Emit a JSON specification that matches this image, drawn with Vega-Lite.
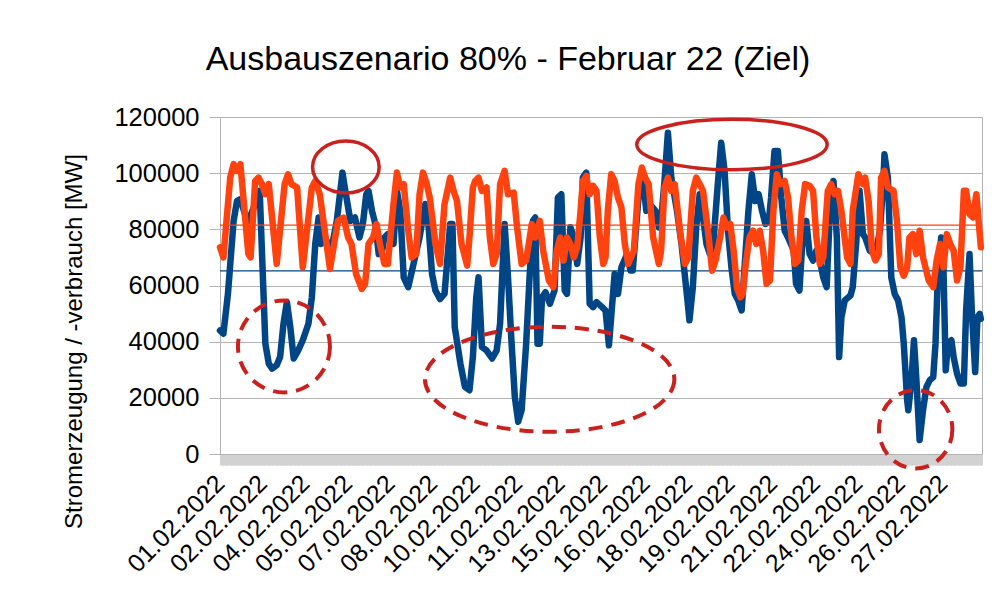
{
  "$schema": "https://vega.github.io/schema/vega-lite/v6.json",
  "width": 762,
  "height": 337,
  "autosize": {"type": "none"},
  "padding": {"left": 220, "top": 117, "right": 21, "bottom": 146},
  "background": "white",
  "title": {
    "text": "Ausbauszenario 80% - Februar 22 (Ziel)",
    "fontSize": 34,
    "font": "Liberation Sans",
    "fontWeight": "normal",
    "color": "black",
    "anchor": "middle",
    "frame": "group",
    "dx": -93,
    "offset": 1,
    "baseline": "alphabetic"
  },
  "config": {
    "view": {"stroke": "#b3b3b3", "strokeWidth": 1},
    "font": "Liberation Sans"
  },
  "datasets": {
    "mittel": [
      {"s": "Erzeugung", "v": 65200},
      {"s": "Verbrauch", "v": 81500}
    ],
    "markierungen": [
      {"id": 1, "h": 111, "v": 102200},
      {"id": 2, "h": 451.5, "v": 110200},
      {"id": 3, "h": 56.4, "v": 38300},
      {"id": 4, "h": 290.7, "v": 26600},
      {"id": 5, "h": 613.5, "v": 8800}
    ],
    "erzeugung": [
      {"h": 0, "v": 44000}, {"h": 3, "v": 42800}, {"h": 7, "v": 57000}, {"h": 12, "v": 83000},
      {"h": 15, "v": 90100}, {"h": 18, "v": 90700}, {"h": 22, "v": 85400}, {"h": 25, "v": 83000},
      {"h": 31, "v": 89000}, {"h": 35, "v": 93700}, {"h": 40, "v": 39300}, {"h": 43, "v": 32200},
      {"h": 46, "v": 30400}, {"h": 50, "v": 31600}, {"h": 53, "v": 34500}, {"h": 56, "v": 46400},
      {"h": 59, "v": 54100}, {"h": 62, "v": 45200}, {"h": 65, "v": 34000}, {"h": 69, "v": 36900},
      {"h": 73, "v": 40500}, {"h": 78, "v": 46400}, {"h": 81, "v": 55800}, {"h": 84, "v": 74800},
      {"h": 87, "v": 84200}, {"h": 89, "v": 74800}, {"h": 94, "v": 75900}, {"h": 98, "v": 72400},
      {"h": 103, "v": 83000}, {"h": 108, "v": 100200}, {"h": 110, "v": 95000}, {"h": 115, "v": 83000},
      {"h": 119, "v": 84200}, {"h": 123, "v": 77100}, {"h": 126, "v": 81900}, {"h": 129, "v": 92500},
      {"h": 131, "v": 93700}, {"h": 134, "v": 86600}, {"h": 137, "v": 81900}, {"h": 140, "v": 71200},
      {"h": 143, "v": 72400}, {"h": 145, "v": 77100}, {"h": 148, "v": 78300}, {"h": 153, "v": 74800},
      {"h": 156, "v": 93700}, {"h": 159, "v": 86600}, {"h": 162, "v": 62900}, {"h": 166, "v": 59400},
      {"h": 170, "v": 66500}, {"h": 176, "v": 77100}, {"h": 181, "v": 89000}, {"h": 184, "v": 80700},
      {"h": 187, "v": 64100}, {"h": 190, "v": 58200}, {"h": 194, "v": 55200}, {"h": 198, "v": 57000},
      {"h": 203, "v": 81900}, {"h": 205, "v": 81900}, {"h": 207, "v": 45200}, {"h": 212, "v": 32200},
      {"h": 216, "v": 23900}, {"h": 220, "v": 22700}, {"h": 223, "v": 34500}, {"h": 226, "v": 55800},
      {"h": 228, "v": 62900}, {"h": 231, "v": 38100}, {"h": 235, "v": 36900}, {"h": 240, "v": 34000},
      {"h": 244, "v": 36900}, {"h": 247, "v": 46400}, {"h": 251, "v": 81900}, {"h": 254, "v": 62900},
      {"h": 257, "v": 40500}, {"h": 260, "v": 20300}, {"h": 263, "v": 11500}, {"h": 266, "v": 15600},
      {"h": 270, "v": 39300}, {"h": 273, "v": 62900}, {"h": 276, "v": 83000}, {"h": 278, "v": 84200},
      {"h": 280, "v": 39300}, {"h": 282, "v": 39300}, {"h": 284, "v": 55800}, {"h": 287, "v": 57600},
      {"h": 291, "v": 53500}, {"h": 295, "v": 58200}, {"h": 298, "v": 91300}, {"h": 301, "v": 92500},
      {"h": 304, "v": 58200}, {"h": 306, "v": 57000}, {"h": 309, "v": 80700}, {"h": 312, "v": 77100},
      {"h": 315, "v": 67700}, {"h": 318, "v": 77100}, {"h": 320, "v": 98400}, {"h": 323, "v": 100200},
      {"h": 326, "v": 53500}, {"h": 329, "v": 52300}, {"h": 332, "v": 54100}, {"h": 337, "v": 52300},
      {"h": 340, "v": 51100}, {"h": 343, "v": 38700}, {"h": 348, "v": 64100}, {"h": 351, "v": 57000},
      {"h": 354, "v": 66500}, {"h": 359, "v": 71200}, {"h": 362, "v": 65300}, {"h": 364, "v": 65300},
      {"h": 370, "v": 96100}, {"h": 373, "v": 97200}, {"h": 376, "v": 86600}, {"h": 379, "v": 89000},
      {"h": 384, "v": 86600}, {"h": 387, "v": 80700}, {"h": 389, "v": 83000}, {"h": 392, "v": 97200},
      {"h": 395, "v": 114400}, {"h": 398, "v": 98400}, {"h": 403, "v": 86600}, {"h": 407, "v": 74800},
      {"h": 412, "v": 55800}, {"h": 414, "v": 47600}, {"h": 417, "v": 59400}, {"h": 420, "v": 80700},
      {"h": 423, "v": 92500}, {"h": 426, "v": 84200}, {"h": 429, "v": 74800}, {"h": 432, "v": 71200},
      {"h": 435, "v": 74800}, {"h": 439, "v": 96100}, {"h": 442, "v": 110800}, {"h": 445, "v": 100800},
      {"h": 448, "v": 79500}, {"h": 451, "v": 66500}, {"h": 454, "v": 57000}, {"h": 457, "v": 54700},
      {"h": 460, "v": 51100}, {"h": 463, "v": 68900}, {"h": 466, "v": 86600}, {"h": 469, "v": 99600},
      {"h": 472, "v": 90100}, {"h": 475, "v": 92500}, {"h": 478, "v": 86600}, {"h": 481, "v": 81900},
      {"h": 484, "v": 83000}, {"h": 486, "v": 91300}, {"h": 489, "v": 107900}, {"h": 492, "v": 107900},
      {"h": 495, "v": 91300}, {"h": 498, "v": 79500}, {"h": 501, "v": 77100}, {"h": 506, "v": 72400},
      {"h": 508, "v": 60600}, {"h": 511, "v": 58200}, {"h": 514, "v": 78300}, {"h": 517, "v": 83000},
      {"h": 520, "v": 71200}, {"h": 523, "v": 68900}, {"h": 526, "v": 72400}, {"h": 529, "v": 68900},
      {"h": 532, "v": 62900}, {"h": 535, "v": 59400}, {"h": 538, "v": 87800}, {"h": 541, "v": 97200},
      {"h": 544, "v": 77100}, {"h": 546, "v": 34500}, {"h": 548, "v": 48700}, {"h": 551, "v": 54700},
      {"h": 556, "v": 56400}, {"h": 558, "v": 59400}, {"h": 561, "v": 74800}, {"h": 564, "v": 93700},
      {"h": 567, "v": 78300}, {"h": 569, "v": 77100}, {"h": 573, "v": 72400}, {"h": 578, "v": 71200},
      {"h": 582, "v": 79500}, {"h": 585, "v": 97200}, {"h": 586, "v": 106700}, {"h": 589, "v": 98400},
      {"h": 591, "v": 74800}, {"h": 592, "v": 62900}, {"h": 595, "v": 57000}, {"h": 598, "v": 54700},
      {"h": 601, "v": 48700}, {"h": 603, "v": 39300}, {"h": 606, "v": 19200}, {"h": 607, "v": 15600},
      {"h": 610, "v": 27400}, {"h": 612, "v": 40500}, {"h": 614, "v": 27400}, {"h": 617, "v": 5000},
      {"h": 620, "v": 15600}, {"h": 623, "v": 23900}, {"h": 626, "v": 26300}, {"h": 629, "v": 27400},
      {"h": 631, "v": 39300}, {"h": 633, "v": 62900}, {"h": 636, "v": 77100}, {"h": 638, "v": 66500},
      {"h": 640, "v": 29800}, {"h": 642, "v": 39300}, {"h": 645, "v": 40500}, {"h": 647, "v": 34500},
      {"h": 650, "v": 28600}, {"h": 653, "v": 25100}, {"h": 656, "v": 25100}, {"h": 658, "v": 51100},
      {"h": 661, "v": 71200}, {"h": 663, "v": 51100}, {"h": 666, "v": 29200}, {"h": 668, "v": 48700},
      {"h": 670, "v": 49900}, {"h": 671, "v": 48100}
    ],
    "verbrauch": [
      {"h": 0, "v": 73600}, {"h": 3, "v": 70000}, {"h": 9, "v": 98400}, {"h": 12, "v": 103200},
      {"h": 15, "v": 100800}, {"h": 18, "v": 103200}, {"h": 25, "v": 71200}, {"h": 27, "v": 70000},
      {"h": 31, "v": 97200}, {"h": 34, "v": 98400}, {"h": 37, "v": 96100}, {"h": 40, "v": 92500},
      {"h": 43, "v": 96100}, {"h": 50, "v": 67700}, {"h": 57, "v": 96100}, {"h": 60, "v": 99600},
      {"h": 63, "v": 96100}, {"h": 68, "v": 94900}, {"h": 73, "v": 66500}, {"h": 81, "v": 94900},
      {"h": 84, "v": 97200}, {"h": 88, "v": 92500}, {"h": 97, "v": 65900}, {"h": 104, "v": 83000},
      {"h": 109, "v": 84200}, {"h": 113, "v": 77100}, {"h": 116, "v": 74800}, {"h": 120, "v": 64100},
      {"h": 125, "v": 58800}, {"h": 128, "v": 60600}, {"h": 131, "v": 74800}, {"h": 135, "v": 77100},
      {"h": 138, "v": 81900}, {"h": 141, "v": 74800}, {"h": 145, "v": 67700}, {"h": 148, "v": 67700},
      {"h": 153, "v": 89000}, {"h": 156, "v": 100200}, {"h": 159, "v": 94900}, {"h": 162, "v": 96100},
      {"h": 166, "v": 79500}, {"h": 169, "v": 70000}, {"h": 173, "v": 71200}, {"h": 176, "v": 92500},
      {"h": 179, "v": 100200}, {"h": 182, "v": 96700}, {"h": 185, "v": 91300}, {"h": 190, "v": 74800},
      {"h": 194, "v": 67700}, {"h": 198, "v": 89000}, {"h": 203, "v": 98400}, {"h": 206, "v": 93700},
      {"h": 209, "v": 90100}, {"h": 213, "v": 74800}, {"h": 218, "v": 67100}, {"h": 220, "v": 77100},
      {"h": 223, "v": 94900}, {"h": 225, "v": 97200}, {"h": 228, "v": 98400}, {"h": 231, "v": 93700},
      {"h": 235, "v": 94900}, {"h": 238, "v": 77100}, {"h": 241, "v": 67700}, {"h": 244, "v": 71200},
      {"h": 247, "v": 96100}, {"h": 251, "v": 100800}, {"h": 254, "v": 92500}, {"h": 259, "v": 93100},
      {"h": 262, "v": 80700}, {"h": 266, "v": 67700}, {"h": 270, "v": 68900}, {"h": 275, "v": 81900},
      {"h": 278, "v": 77100}, {"h": 282, "v": 83000}, {"h": 285, "v": 72400}, {"h": 290, "v": 61800},
      {"h": 294, "v": 59400}, {"h": 297, "v": 72400}, {"h": 300, "v": 77100}, {"h": 303, "v": 68900},
      {"h": 306, "v": 77100}, {"h": 309, "v": 74800}, {"h": 312, "v": 70000}, {"h": 315, "v": 73600},
      {"h": 318, "v": 86600}, {"h": 320, "v": 97200}, {"h": 323, "v": 99000}, {"h": 326, "v": 92500},
      {"h": 329, "v": 95500}, {"h": 332, "v": 93700}, {"h": 335, "v": 77100}, {"h": 338, "v": 67700},
      {"h": 340, "v": 70000}, {"h": 342, "v": 86600}, {"h": 345, "v": 99600}, {"h": 348, "v": 97200},
      {"h": 351, "v": 91300}, {"h": 354, "v": 87800}, {"h": 357, "v": 74800}, {"h": 360, "v": 67700},
      {"h": 365, "v": 72400}, {"h": 369, "v": 96100}, {"h": 372, "v": 102000}, {"h": 375, "v": 98400},
      {"h": 378, "v": 96100}, {"h": 382, "v": 77100}, {"h": 387, "v": 67700}, {"h": 389, "v": 72400},
      {"h": 392, "v": 94900}, {"h": 395, "v": 98400}, {"h": 398, "v": 93700}, {"h": 401, "v": 96100},
      {"h": 406, "v": 78300}, {"h": 410, "v": 67700}, {"h": 413, "v": 70000}, {"h": 417, "v": 93700},
      {"h": 420, "v": 98400}, {"h": 423, "v": 96100}, {"h": 426, "v": 93700}, {"h": 431, "v": 77100},
      {"h": 434, "v": 65300}, {"h": 437, "v": 68900}, {"h": 441, "v": 77100}, {"h": 444, "v": 84200},
      {"h": 447, "v": 80700}, {"h": 450, "v": 81900}, {"h": 453, "v": 72400}, {"h": 456, "v": 59000},
      {"h": 459, "v": 55800}, {"h": 461, "v": 57000}, {"h": 464, "v": 68900}, {"h": 467, "v": 77100},
      {"h": 470, "v": 79500}, {"h": 473, "v": 74800}, {"h": 476, "v": 79500}, {"h": 479, "v": 72400},
      {"h": 482, "v": 60600}, {"h": 485, "v": 61800}, {"h": 488, "v": 86600}, {"h": 491, "v": 99600},
      {"h": 494, "v": 96100}, {"h": 498, "v": 97200}, {"h": 501, "v": 91300}, {"h": 504, "v": 77100},
      {"h": 507, "v": 67700}, {"h": 510, "v": 68900}, {"h": 513, "v": 86600}, {"h": 516, "v": 96100},
      {"h": 520, "v": 95500}, {"h": 523, "v": 93700}, {"h": 526, "v": 77100}, {"h": 529, "v": 67700},
      {"h": 532, "v": 70000}, {"h": 536, "v": 93700}, {"h": 539, "v": 96100}, {"h": 542, "v": 92500},
      {"h": 545, "v": 93700}, {"h": 548, "v": 86600}, {"h": 553, "v": 70000}, {"h": 556, "v": 67700},
      {"h": 558, "v": 86600}, {"h": 563, "v": 99600}, {"h": 567, "v": 96100}, {"h": 569, "v": 98400},
      {"h": 572, "v": 90100}, {"h": 575, "v": 72400}, {"h": 578, "v": 68900}, {"h": 581, "v": 71200},
      {"h": 583, "v": 98400}, {"h": 586, "v": 100800}, {"h": 589, "v": 94900}, {"h": 594, "v": 93700},
      {"h": 597, "v": 83000}, {"h": 600, "v": 66500}, {"h": 603, "v": 63500}, {"h": 606, "v": 66500},
      {"h": 608, "v": 77100}, {"h": 611, "v": 78300}, {"h": 614, "v": 71200}, {"h": 617, "v": 79500},
      {"h": 620, "v": 70000}, {"h": 625, "v": 61800}, {"h": 629, "v": 59400}, {"h": 632, "v": 68900},
      {"h": 635, "v": 74800}, {"h": 638, "v": 66500}, {"h": 641, "v": 78300}, {"h": 644, "v": 74800},
      {"h": 647, "v": 72400}, {"h": 650, "v": 61800}, {"h": 653, "v": 66500}, {"h": 656, "v": 93700},
      {"h": 658, "v": 93700}, {"h": 661, "v": 85400}, {"h": 664, "v": 84200}, {"h": 667, "v": 92500},
      {"h": 671, "v": 73600}
    ]
  },
  "layer": [
    {
      "data": {"name": "erzeugung"},
      "mark": {"type": "line", "color": "#004586", "strokeWidth": 6.5, "strokeJoin": "round", "strokeCap": "round"},
      "encoding": {
        "x": {
          "field": "h", "type": "quantitative",
          "scale": {"domain": [0, 672], "nice": false, "zero": false},
          "axis": {
            "title": null,
            "grid": false,
            "tickCount": 1344,
            "labelExpr": "datum.value % 37.5 == 0 ? ((floor(datum.value / 24) + 1 < 10 ? '0' : '') + (floor(datum.value / 24) + 1) + '.02.2022') : ''",
            "labelAngle": -45,
            "labelAlign": "right",
            "labelBaseline": "middle",
            "labelFontSize": 25,
            "labelColor": "black",
            "labelOverlap": false,
            "labelBound": false,
            "labelFlush": false,
            "labelPadding": 14,
            "tickSize": 11,
            "tickColor": "#d2d2d2",
            "tickWidth": 1,
            "domainColor": "#b3b3b3"
          }
        },
        "y": {
          "field": "v", "type": "quantitative",
          "scale": {"domain": [0, 120000], "nice": false},
          "axis": {
            "values": [0, 20000, 40000, 60000, 80000, 100000, 120000],
            "format": "d",
            "labelFontSize": 25.5,
            "labelColor": "black",
            "labelPadding": 10,
            "tickSize": 11,
            "tickColor": "#b3b3b3",
            "domainColor": "#b3b3b3",
            "grid": true,
            "gridColor": "#b3b3b3",
            "title": "Stromerzeugung / -verbrauch [MW]",
            "titleFontSize": 24,
            "titleFontWeight": "normal",
            "titleColor": "black",
            "titleAngle": -90,
            "titleAlign": "center",
            "titleBaseline": "middle",
            "titleX": -146,
            "titleY": 224
          }
        }
      }
    },
    {
      "data": {"name": "mittel"},
      "mark": {"type": "rule", "strokeWidth": 1.3},
      "encoding": {
        "y": {"field": "v", "type": "quantitative", "scale": {"domain": [0, 120000], "nice": false}},
        "color": {"field": "s", "type": "nominal", "scale": {"domain": ["Erzeugung", "Verbrauch"], "range": ["#004586", "#ff420e"]}, "legend": null}
      }
    },
    {
      "data": {"name": "verbrauch"},
      "mark": {"type": "line", "color": "#ff420e", "strokeWidth": 6.5, "strokeJoin": "round", "strokeCap": "round"},
      "encoding": {
        "x": {"field": "h", "type": "quantitative", "scale": {"domain": [0, 672], "nice": false, "zero": false}},
        "y": {"field": "v", "type": "quantitative", "scale": {"domain": [0, 120000], "nice": false}}
      }
    },
    {
      "data": {"name": "markierungen"},
      "transform": [{"filter": "datum.id == 1"}],
      "mark": {"type": "point", "filled": false, "opacity": 1, "clip": false, "color": "#c9211e", "strokeWidth": 3.5, "size": 4436,
        "shape": "M1,0C1,0.431 0.552,0.78 0,0.78C-0.552,0.78 -1,0.431 -1,0C-1,-0.431 -0.552,-0.78 0,-0.78C0.552,-0.78 1,-0.431 1,0Z"},
      "encoding": {
        "x": {"field": "h", "type": "quantitative", "scale": {"domain": [0, 672], "nice": false, "zero": false}},
        "y": {"field": "v", "type": "quantitative", "scale": {"domain": [0, 120000], "nice": false}}
      }
    },
    {
      "data": {"name": "markierungen"},
      "transform": [{"filter": "datum.id == 2"}],
      "mark": {"type": "point", "filled": false, "opacity": 1, "clip": false, "color": "#c9211e", "strokeWidth": 3.5, "size": 36252,
        "shape": "M1,0C1,0.146 0.552,0.265 0,0.265C-0.552,0.265 -1,0.146 -1,0C-1,-0.146 -0.552,-0.265 0,-0.265C0.552,-0.265 1,-0.146 1,0Z"},
      "encoding": {
        "x": {"field": "h", "type": "quantitative", "scale": {"domain": [0, 672], "nice": false, "zero": false}},
        "y": {"field": "v", "type": "quantitative", "scale": {"domain": [0, 120000], "nice": false}}
      }
    },
    {
      "data": {"name": "markierungen"},
      "transform": [{"filter": "datum.id == 3"}],
      "mark": {"type": "point", "filled": false, "opacity": 1, "clip": false, "color": "#c9211e", "strokeWidth": 4, "strokeDash": [14, 9], "size": 8464,
        "shape": "M1,0C1,0.552 0.552,1 0,1C-0.552,1 -1,0.552 -1,0C-1,-0.552 -0.552,-1 0,-1C0.552,-1 1,-0.552 1,0Z"},
      "encoding": {
        "x": {"field": "h", "type": "quantitative", "scale": {"domain": [0, 672], "nice": false, "zero": false}},
        "y": {"field": "v", "type": "quantitative", "scale": {"domain": [0, 120000], "nice": false}}
      }
    },
    {
      "data": {"name": "markierungen"},
      "transform": [{"filter": "datum.id == 4"}],
      "mark": {"type": "point", "filled": false, "opacity": 1, "clip": false, "color": "#c9211e", "strokeWidth": 4, "strokeDash": [14, 9], "size": 62200,
        "shape": "M1,0C1,0.2325 0.552,0.421 0,0.421C-0.552,0.421 -1,0.2325 -1,0C-1,-0.2325 -0.552,-0.421 0,-0.421C0.552,-0.421 1,-0.2325 1,0Z"},
      "encoding": {
        "x": {"field": "h", "type": "quantitative", "scale": {"domain": [0, 672], "nice": false, "zero": false}},
        "y": {"field": "v", "type": "quantitative", "scale": {"domain": [0, 120000], "nice": false}}
      }
    },
    {
      "data": {"name": "markierungen"},
      "transform": [{"filter": "datum.id == 5"}],
      "mark": {"type": "point", "filled": false, "opacity": 1, "clip": false, "color": "#c9211e", "strokeWidth": 4, "strokeDash": [14, 9], "size": 6147,
        "shape": "M0.936,0C0.936,0.552 0.517,1 0,1C-0.517,1 -0.936,0.552 -0.936,0C-0.936,-0.552 -0.517,-1 0,-1C0.517,-1 0.936,-0.552 0.936,0Z"},
      "encoding": {
        "x": {"field": "h", "type": "quantitative", "scale": {"domain": [0, 672], "nice": false, "zero": false}},
        "y": {"field": "v", "type": "quantitative", "scale": {"domain": [0, 120000], "nice": false}}
      }
    }
  ]
}
